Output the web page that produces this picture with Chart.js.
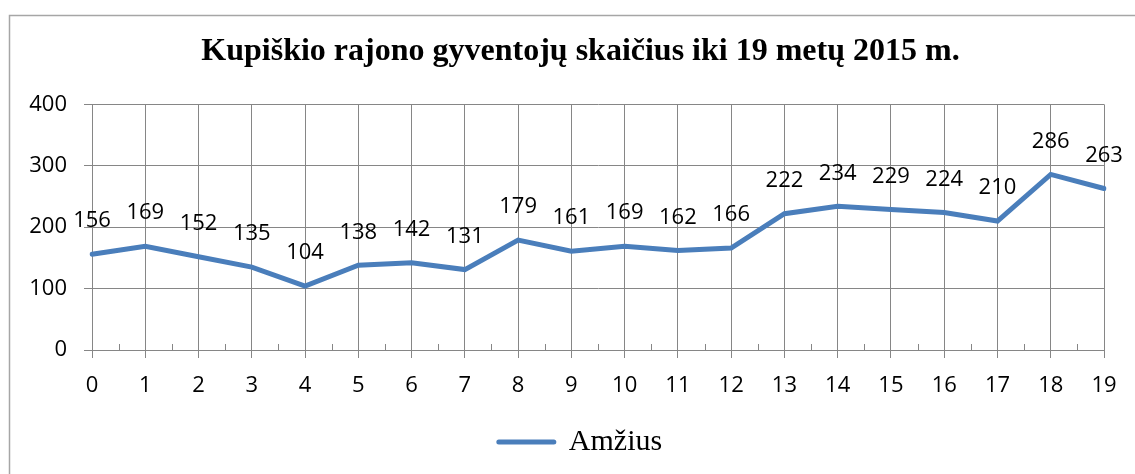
<!DOCTYPE html>
<html>
<head>
<meta charset="utf-8">
<script src="https://cdn.jsdelivr.net/npm/chart.js@4/dist/chart.umd.min.js"></script>
<style>
  html, body { margin: 0; padding: 0; background: #fff; }
  #wrap { width: 1135px; height: 474px; position: relative; }
</style>
</head>
<body>
<div id="wrap"><canvas id="c" width="1135" height="474"></canvas></div>
<script>
const titleText = 'Kupiškio rajono gyventojų skaičius iki 19 metų 2015 m.';
const seriesName = 'Amžius';
const categories = ['0','1','2','3','4','5','6','7','8','9','10','11','12','13','14','15','16','17','18','19'];
const values = [156, 169, 152, 135, 104, 138, 142, 131, 179, 161, 169, 162, 166, 222, 234, 229, 224, 210, 286, 263];
const yMin = 0, yMax = 400, yStep = 100;

const gridColor = '#868686';
const lineColor = '#4a7ebb';
const tickFont = { family: '"Open Sans", "Liberation Sans", sans-serif', size: 22 };

const framePlugin = {
  id: 'frame',
  beforeDraw(chart) {
    const ctx = chart.ctx;
    ctx.save();
    ctx.fillStyle = '#fff';
    ctx.fillRect(0, 0, chart.width, chart.height);
    ctx.strokeStyle = '#a6a6a6';
    ctx.lineWidth = 1.5;
    ctx.strokeRect(9.5, 15.5, chart.width + 20, chart.height + 20);
    ctx.restore();
  }
};

const minorTicksPlugin = {
  id: 'minorTicks',
  afterDraw(chart) {
    const x = chart.scales.x;
    const ctx = chart.ctx;
    const yb = chart.chartArea.bottom;
    ctx.save();
    ctx.strokeStyle = gridColor;
    ctx.lineWidth = 1;
    for (let i = 0; i < categories.length - 1; i++) {
      const px = Math.round((x.getPixelForValue(i) + x.getPixelForValue(i + 1)) / 2) + 0.5;
      ctx.beginPath();
      ctx.moveTo(px, yb);
      ctx.lineTo(px, yb - 6);
      ctx.stroke();
    }
    ctx.restore();
  }
};

const dataLabelsPlugin = {
  id: 'dataLabels',
  afterDatasetsDraw(chart) {
    const ctx = chart.ctx;
    const meta = chart.getDatasetMeta(0);
    ctx.save();
    ctx.font = `${tickFont.size}px ${tickFont.family}`;
    ctx.fillStyle = '#000';
    ctx.textAlign = 'center';
    ctx.textBaseline = 'middle';
    meta.data.forEach((pt, i) => {
      ctx.fillText(String(values[i]), pt.x, pt.y - 33);
    });
    ctx.restore();
  }
};

new Chart(document.getElementById('c'), {
  type: 'line',
  data: {
    labels: categories,
    datasets: [{
      label: seriesName,
      data: values,
      borderColor: lineColor,
      backgroundColor: lineColor,
      borderWidth: 5,
      borderCapStyle: 'round',
      borderJoinStyle: 'miter',
      tension: 0,
      pointRadius: 0,
      pointHoverRadius: 0,
      fill: false
    }]
  },
  options: {
    responsive: false,
    animation: false,
    devicePixelRatio: 1,
    layout: { padding: { left: 26, right: 0, top: 0, bottom: 7 } },
    plugins: {
      tooltip: { enabled: false },
      title: {
        display: true,
        text: titleText,
        color: '#000',
        font: { family: '"Liberation Serif", "Times New Roman", serif', size: 32, weight: 'bold' },
        padding: { top: 33, bottom: 33 }
      },
      legend: {
        display: true,
        position: 'bottom',
        labels: {
          color: '#000',
          font: { family: '"Liberation Serif", "Times New Roman", serif', size: 30 },
          usePointStyle: true,
          pointStyleWidth: 55,
          padding: 10,
          generateLabels(chart) {
            return [{
              text: seriesName,
              fillStyle: lineColor,
              strokeStyle: lineColor,
              lineWidth: 5,
              lineCap: 'round',
              pointStyle: 'line',
              fontColor: '#000',
              datasetIndex: 0,
              hidden: false
            }];
          }
        }
      }
    },
    scales: {
      x: {
        type: 'category',
        offset: false,
        grid: { display: true, color: gridColor, lineWidth: 1, tickLength: 8, drawTicks: true, offset: false },
        border: { display: true, color: gridColor, width: 1 },
        ticks: { color: '#000', font: tickFont, padding: 15, maxRotation: 0, autoSkip: false },
        afterFit(s) { s.height = 67; }
      },
      y: {
        min: yMin,
        max: yMax,
        grid: { display: true, color: gridColor, lineWidth: 1, tickLength: 8, drawTicks: true },
        border: { display: true, color: gridColor, width: 1 },
        ticks: { stepSize: yStep, color: '#000', font: tickFont, padding: 17 },
        afterFit(s) { s.width = 66; }
      },
      y2: {
        position: 'right',
        display: true,
        grid: { display: false, drawTicks: false },
        border: { display: false },
        ticks: { display: false },
        afterFit(s) { s.width = 31; }
      }
    }
  },
  plugins: [framePlugin, minorTicksPlugin, dataLabelsPlugin]
});
</script>
</body>
</html>
